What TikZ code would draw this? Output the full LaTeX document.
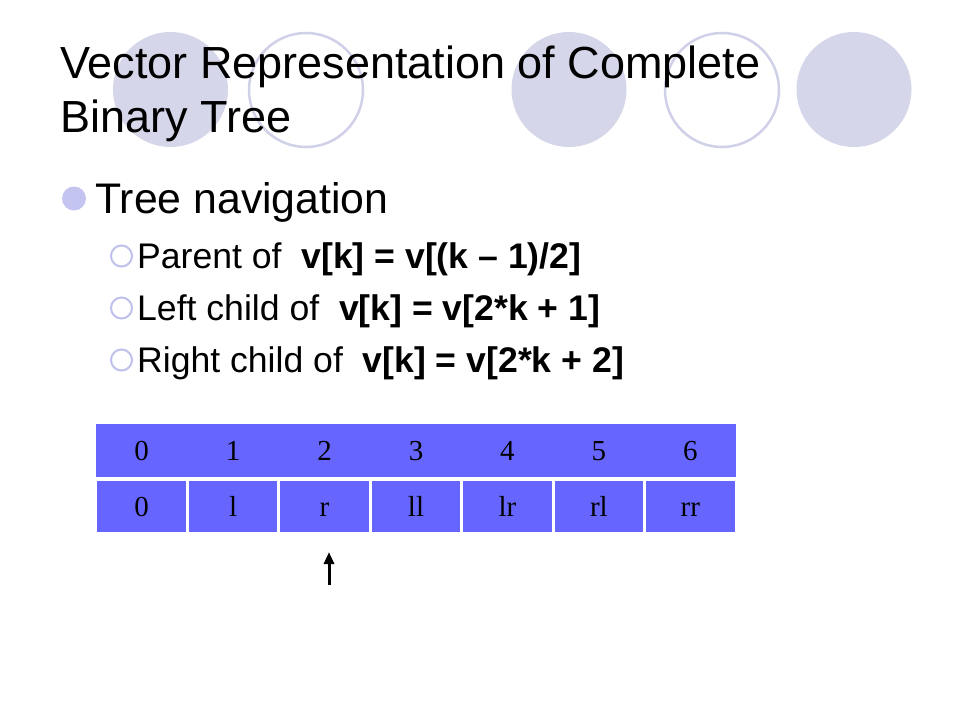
\documentclass[tikz,border=0pt]{standalone}
\usepackage{fontspec}
\setmainfont{Liberation Sans}
\newfontfamily\timesf{Liberation Serif}
\usetikzlibrary{arrows.meta}
\definecolor{deco}{RGB}{214,214,235}
\definecolor{decoline}{RGB}{208,208,232}
\definecolor{cellblue}{RGB}{102,102,255}
\definecolor{bul}{RGB}{196,196,240}
\definecolor{subbul}{RGB}{192,192,236}
\tikzset{
  txt/.style={anchor=base west, inner sep=0pt, text=black},
  titletext/.style={txt, font=\fontsize{45}{54}\selectfont},
  lvlone/.style={txt, font=\fontsize{42.8}{50}\selectfont},
  lvltwo/.style={txt, font=\fontsize{35.6}{42}\selectfont},
  idxtext/.style={anchor=base, inner sep=0pt, font=\timesf\fontsize{29}{29}\selectfont},
  cellbox/.style={fill=cellblue, draw=white, line width=3pt, minimum width=91.43pt,
    minimum height=54pt, inner sep=0pt, text height=19.5pt, text depth=0pt,
    font=\timesf\fontsize{29}{29}\selectfont},
  pointer/.style={line width=3pt, -{Triangle[length=12pt,width=10pt]}}
}
\begin{document}
\begin{tikzpicture}[x=1pt,y=-1pt]
\useasboundingbox (0,0) rectangle (960,720);
\fill[white] (0,0) rectangle (960,720);
% decorative circles
\fill[deco] (170.5,89.5) circle[radius=57.5pt];
\draw[decoline, line width=2.5pt] (306,90) circle[radius=57pt];
\fill[deco] (569,89.5) circle[radius=57.5pt];
\draw[decoline, line width=2.5pt] (722,90) circle[radius=57pt];
\fill[deco] (854,89.5) circle[radius=57.5pt];
% title
\node[titletext] (title1) at (60,78) {Vector Representation of Complete};
\node[titletext] (title2) at (60,132) {Binary Tree};
% bullets
\fill[bul] (74,198.5) circle[radius=12pt];
\node[lvlone] (nav) at (95,213) {Tree navigation};
\draw[subbul, line width=2pt] (121.5,256) circle[radius=10.5pt];
\draw[subbul, line width=2pt] (121.5,308) circle[radius=10.5pt];
\draw[subbul, line width=2pt] (121.5,360) circle[radius=10.5pt];
\node[lvltwo] (par) at (137,268) {Parent of\ \ \textbf{v[k] = v[(k – 1)/2]}};
\node[lvltwo] (lc) at (137,320) {Left child of\ \ \textbf{v[k] = v[2*k + 1]}};
\node[lvltwo] (rc) at (137,372) {Right child of\ \ \textbf{v[k] = v[2*k + 2]}};
% index row
\node[fill=cellblue, minimum width=640pt, minimum height=53pt, inner sep=0pt] (idxrow) at (416,450.5) {};
\foreach \i/\x in {0/141.71,1/233.14,2/324.57,3/416,4/507.43,5/598.86,6/690.29}{
  \node[idxtext] (i\i) at (\x,460.5) {\i};
}
% value row
\node[cellbox] (c0) at (141.71,506.5) {0};
\node[cellbox] (c1) at (233.14,506.5) {l};
\node[cellbox] (c2) at (324.57,506.5) {r};
\node[cellbox] (c3) at (416,506.5) {ll};
\node[cellbox] (c4) at (507.43,506.5) {lr};
\node[cellbox] (c5) at (598.86,506.5) {rl};
\node[cellbox] (c6) at (690.29,506.5) {rr};
% pointer
\coordinate (atail) at (329,585);
\coordinate (ahead) at (329,552);
\draw[pointer] (atail) -- (ahead);
\end{tikzpicture}
\end{document}
